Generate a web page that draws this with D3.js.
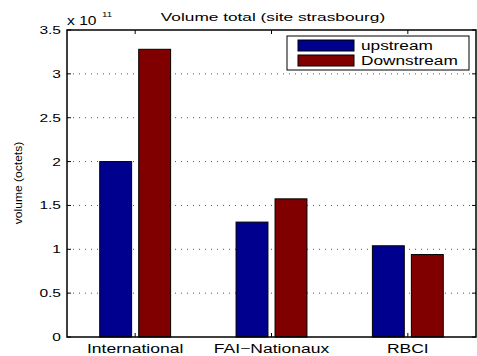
<!DOCTYPE html>
<html><head><meta charset="utf-8">
<script src="https://cdn.jsdelivr.net/npm/d3@7"></script>
<style>body{margin:0;background:#fff}svg{display:block}text{font-family:"Liberation Sans",Arial,sans-serif;fill:#000}</style>
</head><body><svg id="c" width="477" height="356"></svg>
<script>
const categories = ["International", "FAI\u2212Nationaux", "RBCI"];
const seriesNames = ["upstream", "Downstream"];
const upstream = [2.0, 1.31, 1.04];
const downstream = [3.28, 1.575, 0.94];
const yTicks = [0, 0.5, 1, 1.5, 2, 2.5, 3, 3.5];
const yTickLabels = ["0", "0.5", "1", "1.5", "2", "2.5", "3", "3.5"];
const colors = ["#00008f", "#800000"];

const svg = d3.select("#c");
const L = 67, R = 476, T = 30, B = 337;
const x = d3.scaleLinear().domain([0.5, 3.5]).range([L, R]);
const y = d3.scaleLinear().domain([0, 3.5]).range([B, T]);
const unit = x(1) - x(0);
const barW = 0.234, off = 0.143;

function wide(sel, factor) {
  sel.each(function () {
    const w = this.getComputedTextLength();
    this.setAttribute("textLength", w * factor);
    this.setAttribute("lengthAdjust", "spacingAndGlyphs");
  });
}

// grid
svg.append("g").selectAll("line").data(yTicks.slice(1, -1)).join("line")
  .attr("x1", L).attr("x2", R).attr("y1", d => y(d)).attr("y2", d => y(d))
  .attr("stroke", "#555").attr("stroke-width", 1).attr("stroke-dasharray", "1,5");

// bars
[upstream, downstream].forEach((vals, si) => {
  svg.append("g").selectAll("rect").data(vals).join("rect")
    .attr("x", (d, i) => x(i + 1 + (si === 0 ? -off : off) - barW / 2))
    .attr("width", barW * unit)
    .attr("y", d => y(d))
    .attr("height", d => y(0) - y(d))
    .attr("fill", colors[si]).attr("stroke", "#000").attr("stroke-width", 1);
});

// axes box
const ax = svg.append("g");
ax.append("rect").attr("x", L).attr("y", T).attr("width", R - L).attr("height", B - T)
  .attr("fill", "none").attr("stroke", "#000").attr("stroke-width", 1.5);
yTicks.forEach(t => {
  ax.append("line").attr("x1", L).attr("x2", L + 4).attr("y1", y(t)).attr("y2", y(t)).attr("stroke", "#000");
  ax.append("line").attr("x1", R - 4).attr("x2", R).attr("y1", y(t)).attr("y2", y(t)).attr("stroke", "#000");
});
categories.forEach((c, i) => {
  ax.append("line").attr("x1", x(i + 1)).attr("x2", x(i + 1)).attr("y1", T).attr("y2", T + 4).attr("stroke", "#000");
  ax.append("line").attr("x1", x(i + 1)).attr("x2", x(i + 1)).attr("y1", B - 4).attr("y2", B).attr("stroke", "#000");
});

// y tick labels
svg.append("g").selectAll("text").data(yTicks).join("text")
  .attr("x", 61).attr("y", d => y(d) + 4)
  .attr("text-anchor", "end").attr("font-size", 11.5)
  .text((d, i) => yTickLabels[i]).call(wide, 1.35);

// x labels
svg.append("g").selectAll("text").data(categories).join("text")
  .attr("x", (d, i) => x(i + 1)).attr("y", 352.5)
  .attr("text-anchor", "middle").attr("font-size", 12.5)
  .text(d => d).call(wide, 1.4);

// exponent
svg.append("text").attr("x", 67).attr("y", 25).attr("font-size", 12).text("x 10").call(wide, 1.3);
svg.append("text").attr("x", 102).attr("y", 17).attr("font-size", 7.5).text("11").call(wide, 1.3);

// title
svg.append("text").attr("x", 273).attr("y", 21).attr("text-anchor", "middle")
  .attr("font-size", 11.5).text("Volume total (site strasbourg)").call(wide, 1.5);

// y label
svg.append("text").attr("transform", "translate(22,183) rotate(-90)")
  .attr("text-anchor", "middle").attr("font-size", 11.5).text("volume (octets)").call(wide, 1.05);

// legend
const lg = svg.append("g");
lg.append("rect").attr("x", 287).attr("y", 36).attr("width", 182).attr("height", 34)
  .attr("fill", "#fff").attr("stroke", "#000").attr("stroke-width", 1);
seriesNames.forEach((n, i) => {
  lg.append("rect").attr("x", 298).attr("y", 40 + i * 15).attr("width", 56).attr("height", 11)
    .attr("fill", colors[i]).attr("stroke", "#000");
  lg.append("text").attr("x", 361).attr("y", 49.5 + i * 15.5).attr("font-size", 12.5).text(n).call(wide, 1.38);
});
</script></body></html>
